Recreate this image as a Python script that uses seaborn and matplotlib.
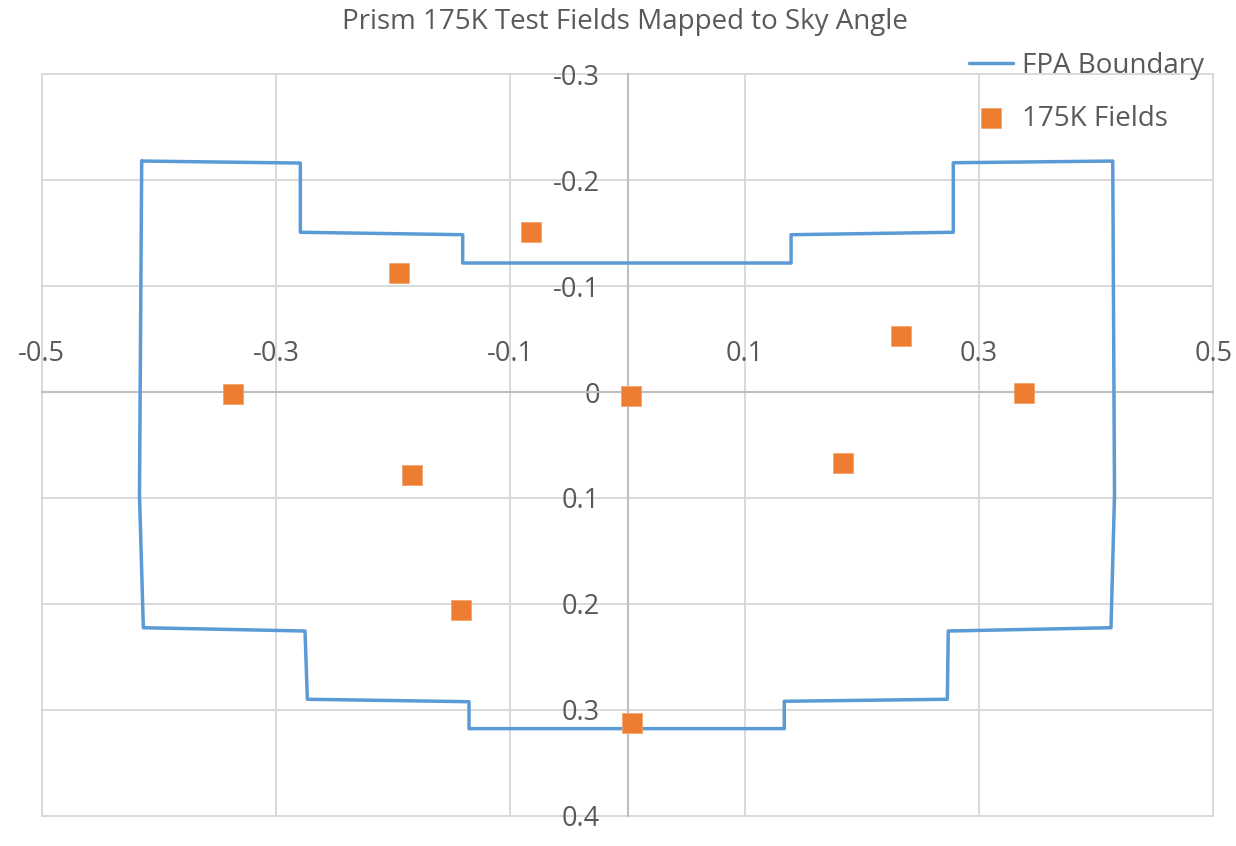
import pandas as pd
import seaborn as sns
import matplotlib.pyplot as plt


# FPA boundary outline (closed polygon, sky angle units)
boundary_x = [-0.4147, -0.2793, -0.2793, -0.1407, -0.1407, 0.1396, 0.1396, 0.2781,
              0.2781, 0.4142, 0.4157, 0.4127, 0.2738, 0.2730, 0.1338, 0.1338,
              -0.1353, -0.1353, -0.2733, -0.2753, -0.4133, -0.4166, -0.4147]
boundary_y = [-0.2179, -0.2160, -0.1507, -0.1484, -0.1217, -0.1217, -0.1484, -0.1507,
              -0.2163, -0.2179, 0.0972, 0.2224, 0.2255, 0.2899, 0.2918, 0.3176,
              0.3176, 0.2922, 0.2899, 0.2255, 0.2224, 0.0972, -0.2179]

# 175K test field positions
field_x = [-0.3370, -0.1953, -0.0826, 0.0027, -0.1840, -0.1419, 0.0038, 0.1842, 0.2332, 0.3382]
field_y = [0.0022, -0.1120, -0.1507, 0.0035, 0.0783, 0.2059, 0.3120, 0.0667, -0.0528, 0.0012]

x_ticks = [-0.5, -0.3, -0.1, 0.1, 0.3, 0.5]
x_tick_labels = ["-0.5", "-0.3", "-0.1", "0.1", "0.3", "0.5"]
y_ticks = [-0.3, -0.2, -0.1, 0.0, 0.1, 0.2, 0.3, 0.4]
y_tick_labels = ["-0.3", "-0.2", "-0.1", "0", "0.1", "0.2", "0.3", "0.4"]

df_boundary = pd.DataFrame({"x": boundary_x, "y": boundary_y})
df_fields = pd.DataFrame({"x": field_x, "y": field_y})

sns.set_theme(style="white")
plt.rcParams['font.family'] = ['Open Sans', 'DejaVu Sans']

text_color = "#595959"
fig = plt.figure(figsize=(12.36, 8.46), dpi=100)
ax = fig.add_axes([0.0338, 0.0355, 0.9478, 0.877])

sns.lineplot(data=df_boundary, x="x", y="y", sort=False, estimator=None,
             color="#5B9BD5", lw=2.5, ax=ax, label="FPA Boundary", zorder=3)
sns.scatterplot(data=df_fields, x="x", y="y", marker="s", s=200, color="#ED7D31",
                edgecolor="#F4A470", linewidth=0.6, ax=ax, label="175K Fields", zorder=4)

ax.set_xlim(-0.5, 0.5)
ax.set_ylim(0.4, -0.3)
ax.set_xticks(x_ticks)
ax.set_xticklabels(x_tick_labels)
ax.set_yticks(y_ticks)
ax.set_yticklabels(y_tick_labels)
ax.set_xlabel("")
ax.set_ylabel("")

# axes cross at zero, Excel style
ax.xaxis.set_ticks_position("top")
ax.spines["top"].set_position(("data", 0))
ax.spines["left"].set_position(("data", 0))
for side in ["bottom", "right"]:
    ax.spines[side].set_visible(False)
for side in ["top", "left"]:
    ax.spines[side].set_color("#bfbfbf")
    ax.spines[side].set_linewidth(1.5)
    ax.spines[side].set_zorder(1.5)

ax.grid(True, color="#d9d9d9", lw=1.4, zorder=0)
ax.set_axisbelow(True)
for line in ax.get_xgridlines() + ax.get_ygridlines():
    line.set_clip_on(False)
ax.tick_params(axis="x", length=0, pad=17, labelsize=19.5, labelcolor=text_color)
ax.tick_params(axis="y", length=0, pad=20, labelsize=19.5, labelcolor=text_color)

fig.suptitle("Prism 175K Test Fields Mapped to Sky Angle", x=0.506, y=0.99,
             fontsize=20, color=text_color, va="top")

ax.legend_.remove()
handles, labels = ax.get_legend_handles_labels()
fig.legend(handles, labels, loc="upper left", bbox_to_anchor=(0.775, 0.952),
           frameon=False, fontsize=20, labelcolor=text_color, handlelength=1.6,
           handletextpad=0.3, labelspacing=0.9, borderaxespad=0)

plt.savefig("out.png", dpi=100)
plt.clf()
